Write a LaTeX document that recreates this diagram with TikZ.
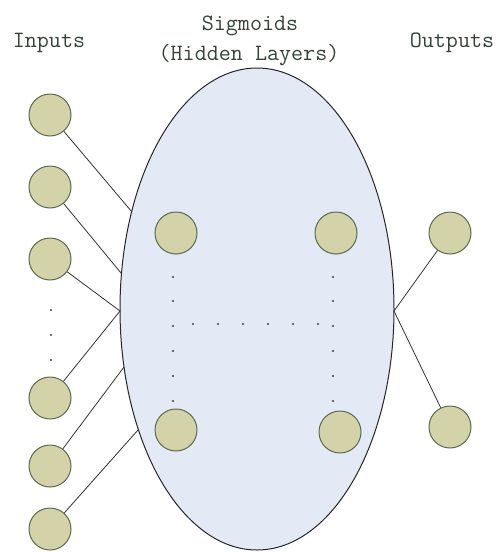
\documentclass[tikz,border=0pt]{standalone}
\usepackage{fontspec}
\usetikzlibrary{shapes.geometric}
\definecolor{nodefill}{HTML}{D3D2A8}
\definecolor{nodeline}{HTML}{5A6A52}
\definecolor{ellfill}{HTML}{E3EAF6}
\definecolor{txt}{HTML}{34443A}
\tikzset{
  neuron/.style={circle, draw=nodeline, fill=nodefill, line width=1pt, minimum size=42pt, inner sep=0pt},
  lbl/.style={text=txt, font=\ttfamily\fontsize{23.4}{30}\selectfont, align=center, inner sep=0pt},
  link/.style={draw=black!80, line width=0.8pt},
  pt/.style={circle, fill=black!75, inner sep=0pt, minimum size=2.4pt},
}
\begin{document}
\begin{tikzpicture}[x=1pt,y=-1pt]
\useasboundingbox (0,0) rectangle (496,552);
% ellipse
\node[ellipse, draw=black!85, fill=ellfill, line width=1pt, minimum width=274pt, minimum height=482pt, inner sep=0pt] (ell) at (257,309) {};
% labels
\node[lbl, anchor=base] (tin) at (49,47) {Inputs};
\node[lbl, anchor=base] (tsig) at (250,30) {Sigmoids};
\node[lbl, anchor=base] (thid) at (249,60) {(Hidden Layers)};
\node[lbl, anchor=base] (tout) at (452,47) {Outputs};
% input neurons
\node[neuron] (i1) at (50,115) {};
\node[neuron] (i2) at (50,187) {};
\node[neuron] (i3) at (50,259) {};
\node[neuron] (i4) at (50,398) {};
\node[neuron] (i5) at (50,466) {};
\node[neuron] (i6) at (50,529) {};
\node[pt] (d1) at (51,310) {};
\node[pt] (d2) at (51,335) {};
\node[pt] (d3) at (51,360) {};
% hidden neurons
\node[neuron] (h1) at (176,233) {};
\node[neuron] (h2) at (336,233) {};
\node[neuron] (h3) at (176,430) {};
\node[neuron] (h4) at (340,432) {};
% output neurons
\node[neuron] (o1) at (450,233) {};
\node[neuron] (o2) at (450,427) {};
% dots inside
\foreach \y [count=\k] in {277,301,326,351,376,401}{
  \node[pt] (lc\k) at (173,\y) {};
  \node[pt] (rc\k) at (333,\y) {};
}
\foreach \x [count=\k] in {193,218,243,268,293,318}{
  \node[pt] (hr\k) at (\x,324) {};
}
% connection points on ellipse
\coordinate (e1) at (132,212);
\coordinate (e2) at (121,273);
\coordinate (e3) at (120,311);
\coordinate (e5) at (124,367);
\coordinate (e6) at (138,430);
\coordinate (er) at (394,311);
\draw[link] (i1) -- (e1);
\draw[link] (i2) -- (e2);
\draw[link] (i3) -- (e3);
\draw[link] (i4) -- (e3);
\draw[link] (i5) -- (e5);
\draw[link] (i6) -- (e6);
\draw[link] (o1) -- (er);
\draw[link] (o2) -- (er);
\end{tikzpicture}
\end{document}
